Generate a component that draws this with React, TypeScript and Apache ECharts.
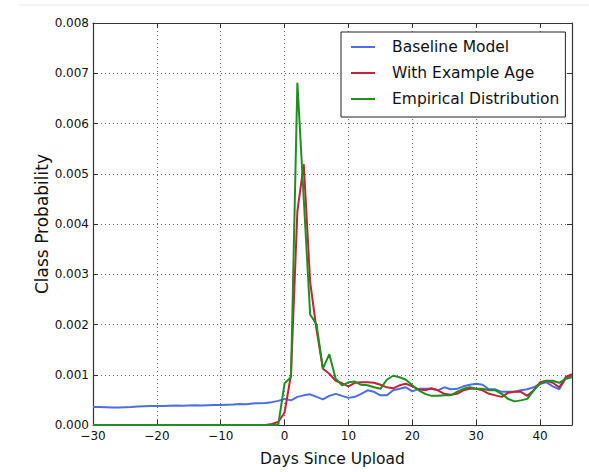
import React, { useEffect, useRef } from "react";
import * as echarts from "echarts";

// Days since upload
const days: number[] = [];
for (let d = -30; d <= 45; d++) days.push(d);

// values in units of 1e-3 (class probability × 1000), days -30 .. 45
const baseline: number[] = [
  0.36, 0.36, 0.355, 0.35, 0.35, 0.355, 0.36, 0.37, 0.375, 0.38,
  0.38, 0.38, 0.385, 0.39, 0.385, 0.39, 0.395, 0.39, 0.395, 0.4,
  0.4, 0.405, 0.41, 0.42, 0.415, 0.43, 0.435, 0.44, 0.455, 0.48,
  0.52, 0.49, 0.56, 0.59, 0.61, 0.56, 0.51, 0.58, 0.62, 0.58,
  0.54, 0.56, 0.62, 0.69, 0.66, 0.59, 0.59, 0.69, 0.72, 0.75,
  0.67, 0.72, 0.72, 0.72, 0.69, 0.75, 0.71, 0.72, 0.77, 0.8,
  0.82, 0.8, 0.71, 0.71, 0.66, 0.66, 0.66, 0.69, 0.71, 0.75,
  0.82, 0.85, 0.77, 0.71, 0.92, 0.98,
];

const withAge: number[] = [
  0, 0, 0, 0, 0, 0, 0, 0, 0, 0,
  0, 0, 0, 0, 0, 0, 0, 0, 0, 0,
  0, 0, 0, 0, 0, 0, 0, 0, 0.02, 0.06,
  0.25, 1.0, 4.25, 5.19, 2.85, 1.9, 1.12, 1.02, 0.88, 0.83,
  0.77, 0.84, 0.85, 0.85, 0.84, 0.8, 0.75, 0.73, 0.79, 0.82,
  0.77, 0.71, 0.69, 0.73, 0.69, 0.62, 0.6, 0.62, 0.69, 0.72,
  0.72, 0.69, 0.62, 0.59, 0.56, 0.64, 0.66, 0.66, 0.58, 0.69,
  0.85, 0.88, 0.84, 0.75, 0.95, 1.01,
];

const empirical: number[] = [
  0, 0, 0, 0, 0, 0, 0, 0, 0, 0,
  0, 0, 0, 0, 0, 0, 0, 0, 0, 0,
  0, 0, 0, 0, 0, 0, 0, 0, 0, 0,
  0.83, 0.95, 6.81, 4.5, 2.2, 2.0, 1.12, 1.41, 0.92, 0.79,
  0.85, 0.865, 0.8, 0.79, 0.75, 0.72, 0.9, 0.98, 0.95, 0.9,
  0.79, 0.69, 0.62, 0.58, 0.58, 0.59, 0.59, 0.66, 0.72, 0.75,
  0.72, 0.72, 0.69, 0.69, 0.62, 0.52, 0.47, 0.49, 0.52, 0.69,
  0.82, 0.88, 0.88, 0.84, 0.92, 0.95,
];

const SCALE = 0.001;
const seriesNames = ["Baseline Model", "With Example Age", "Empirical Distribution"];
const seriesColors = ["#4a6fe0", "#c42236", "#1f8f1f"];

const FONT = "DejaVu Sans";

export default function App() {
  const ref = useRef<HTMLDivElement>(null);
  useEffect(() => {
    if (!ref.current) return;
    const chart = echarts.init(ref.current, undefined, { renderer: "svg" });
    const allData = [baseline, withAge, empirical];
    const minusFmt = (v: number) => String(v).replace("-", "\u2212");
    const frame = { show: true, onZero: false, lineStyle: { color: "#333", width: 1.2 } };
    const ticks = { show: true, inside: true, length: 5, lineStyle: { color: "#333" } };
    const grid = { show: true, lineStyle: { color: "#666", type: [1, 3], width: 1 } };
    chart.setOption({
      animation: false,
      backgroundColor: "#fff",
      grid: { left: 93, top: 23, right: 17, bottom: 42, containLabel: false },
      graphic: [
        {
          type: "line",
          shape: { x1: 19, y1: 5, x2: 589, y2: 5 },
          style: { stroke: "#e8e8e8", lineWidth: 1 },
        },
      ],
      legend: {
        data: seriesNames,
        orient: "vertical",
        left: 341,
        top: 32,
        padding: [6, 6, 9, 10],
        itemGap: 8,
        itemWidth: 24,
        itemHeight: 2,
        icon: "rect",
        borderColor: "#222",
        borderWidth: 1,
        borderRadius: 0,
        backgroundColor: "#fff",
        textStyle: {
          fontFamily: FONT,
          fontSize: 15.5,
          color: "#111",
          lineHeight: 18,
          padding: [0, 0, 0, 12],
        },
      },
      xAxis: [
        {
          type: "value",
          min: -30,
          max: 45,
          interval: 10,
          position: "bottom",
          name: "Days Since Upload",
          nameLocation: "middle",
          nameGap: 26,
          nameTextStyle: { fontFamily: FONT, fontSize: 15.5, color: "#111" },
          axisLine: frame,
          axisTick: ticks,
          axisLabel: {
            fontFamily: FONT,
            fontSize: 12,
            color: "#111",
            margin: 5,
            showMaxLabel: false,
            formatter: minusFmt,
          },
          splitLine: grid,
        },
        {
          type: "value",
          min: -30,
          max: 45,
          interval: 10,
          position: "top",
          axisLine: frame,
          axisTick: ticks,
          axisLabel: { show: false },
          splitLine: { show: false },
        },
      ],
      yAxis: [
        {
          type: "value",
          min: 0,
          max: 0.008,
          interval: 0.001,
          position: "left",
          name: "Class Probability",
          nameLocation: "middle",
          nameGap: 43,
          nameMoveOverlap: false,
          nameRotate: 90,
          nameTextStyle: { fontFamily: FONT, fontSize: 17, color: "#111" },
          axisLine: frame,
          axisTick: ticks,
          axisLabel: {
            fontFamily: FONT,
            fontSize: 12,
            color: "#111",
            margin: 4,
            formatter: (v: number) => v.toFixed(3),
          },
          splitLine: grid,
        },
        {
          type: "value",
          min: 0,
          max: 0.008,
          interval: 0.001,
          position: "right",
          axisLine: frame,
          axisTick: ticks,
          axisLabel: { show: false },
          splitLine: { show: false },
        },
      ],
      series: seriesNames.map((name, i) => ({
        name,
        type: "line",
        xAxisIndex: 0,
        yAxisIndex: 0,
        showSymbol: false,
        symbol: "none",
        color: seriesColors[i],
        lineStyle: { color: seriesColors[i], width: 2 },
        data: days.map((d, k) => [d, allData[i][k] * SCALE]),
      })),
    });
    return () => chart.dispose();
  }, []);
  return (
    <div
      ref={ref}
      style={{ position: "absolute", left: 0, top: 0, width: 589, height: 472 }}
    />
  );
}
